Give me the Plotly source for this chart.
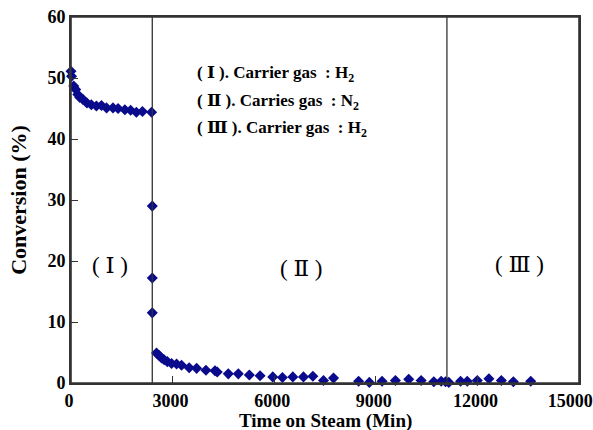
import plotly.graph_objects as go

# Region I (carrier gas H2)
x_r1 = [0, 15, 80, 140, 200, 260, 350, 470, 600, 750, 900, 1050, 1240, 1390, 1590, 1760, 1930, 2110, 2380]
y_r1 = [51.1, 50.3, 48.7, 48.1, 47.3, 46.8, 46.5, 45.9, 45.6, 45.4, 45.5, 45.1, 45.1, 45.0, 44.8, 44.7, 44.4, 44.5, 44.4]

# Switching points
x_sw = [2400, 2400, 2400]
y_sw = [29.0, 17.2, 11.5]

# Region II (carrier gas N2)
x_r2 = [2525, 2602, 2673, 2750, 2845, 2969, 3117, 3265, 3490, 3709, 3984, 4251, 4319, 4644, 4940,
        5266, 5583, 5958, 6243, 6550, 6864, 7142, 7456, 7752, 8492, 8809, 9185, 9579, 9972, 10339,
        10712, 10931, 11059]
y_r2 = [4.9, 4.5, 4.1, 3.8, 3.5, 3.2, 3.1, 2.9, 2.5, 2.4, 2.1, 2.0, 1.8, 1.5, 1.5,
        1.3, 1.2, 1.0, 0.9, 1.0, 1.0, 1.1, 0.4, 0.8, 0.3, 0.1, 0.3, 0.4, 0.6, 0.4,
        0.2, 0.3, 0.2]

# Region III (carrier gas H2)
x_r3 = [11156, 11503, 11701, 11997, 12340, 12707, 13062, 13575]
y_r3 = [0.1, 0.3, 0.3, 0.4, 0.7, 0.4, 0.2, 0.3]

switch_times = [2400, 11100]

x_ticks = [0, 3000, 6000, 9000, 12000, 15000]
x_ticklabels = ["0", "3000", "6000", "9000", "12000", "15000"]
y_ticks = [0, 10, 20, 30, 40, 50, 60]
y_ticklabels = ["0", "10", "20", "30", "40", "50", "60"]

x_title = "Time on Steam (Min)"
y_title = "Conversion (%)"

x_all = x_r1 + x_sw + x_r2 + x_r3
y_all = y_r1 + y_sw + y_r2 + y_r3

FONT = "Liberation Serif, DejaVu Serif, serif"
NAVY = "#0a0a8c"
AXIS = "#333333"

fig = go.Figure()
fig.add_trace(go.Scatter(
    x=x_all, y=y_all, mode="markers",
    marker=dict(symbol="diamond", size=8.5, color=NAVY, line=dict(width=0)),
    cliponaxis=False, showlegend=False, hoverinfo="skip",
))

for xs in switch_times:
    fig.add_shape(type="line", x0=xs, x1=xs, y0=0, y1=60, xref="x", yref="y",
                  line=dict(color=AXIS, width=1.3))

# plot-area frame (top and right edges)
fig.add_shape(type="rect", x0=0, x1=1, y0=0, y1=1, xref="paper", yref="paper",
              line=dict(color=AXIS, width=1.6), layer="above")

notes = [
    "( Ⅰ ). Carrier gas  : H<sub>2</sub>",
    "( Ⅱ ). Carries gas  : N<sub>2</sub>",
    "( Ⅲ ). Carrier gas  : H<sub>2</sub>",
]
note_y = [50.6, 46.1, 41.6]
for t, yy in zip(notes, note_y):
    fig.add_annotation(x=3650, y=yy, text="<b>" + t + "</b>", showarrow=False,
                       xanchor="left", yanchor="middle",
                       font=dict(family=FONT, size=17, color="black"))

region_labels = ["( Ⅰ )", "( Ⅱ )", "( Ⅲ )"]
region_x = [1150, 6800, 13250]
region_y = [19.2, 18.8, 19.5]
for t, xx, yy in zip(region_labels, region_x, region_y):
    fig.add_annotation(x=xx, y=yy, text=t, showarrow=False,
                       font=dict(family=FONT, size=23, color="black"))

# x-axis title placed below the tick labels
fig.add_annotation(x=0.5, y=-0.104, xref="paper", yref="paper", text="<b>" + x_title + "</b>",
                   showarrow=False, xanchor="center", yanchor="middle",
                   font=dict(family=FONT, size=19, color="black"))

axis_common = dict(
    ticks="inside", ticklen=7, tickwidth=1.3, tickcolor=AXIS,
    showline=True, linecolor=AXIS, linewidth=2, mirror=True,
    showgrid=False, zeroline=False, automargin=False,
    ticklabeloverflow="allow",
    tickfont=dict(family=FONT, size=18, color="black"),
)
x_text = ["<b>" + t + "</b>" for t in x_ticklabels]
x_text[-1] = "<b>" + x_ticklabels[-1] + "\u00a0\u00a0\u00a0</b>"
fig.update_xaxes(
    range=[0, 15000], tickvals=x_ticks, ticktext=x_text, ticklabelshift=-2,
    **axis_common,
)
fig.update_yaxes(
    range=[0, 60], tickvals=y_ticks, ticktext=["<b>" + t + "</b>" for t in y_ticklabels],
    title=dict(text="<b>" + y_title + "</b>", font=dict(family=FONT, size=22, color="black")),
    **axis_common,
)

fig.update_layout(
    width=593, height=430,
    margin=dict(l=71, r=14, t=17, b=47),
    plot_bgcolor="white", paper_bgcolor="white",
)

fig.write_html(
    "out.html",
    config={"displayModeBar": False},
    post_script="document.body.style.margin='0';document.body.style.overflow='hidden';",
)
